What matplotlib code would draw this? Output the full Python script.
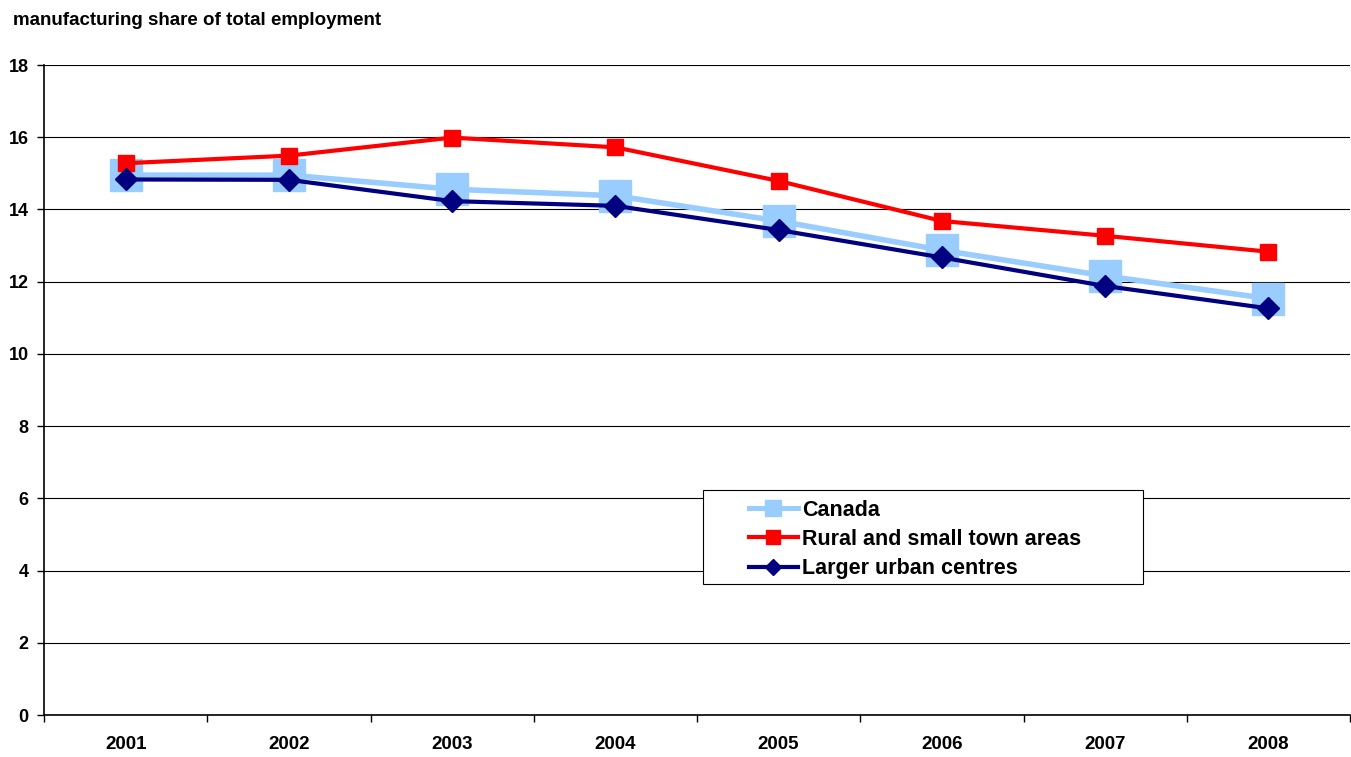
import numpy as np
import matplotlib.pyplot as plt
from matplotlib.lines import Line2D
from matplotlib.patches import Rectangle

plt.rcParams['font.family'] = ['Liberation Sans', 'DejaVu Sans']
plt.rcParams['font.weight'] = 'bold'

# Data
years = ['2001', '2002', '2003', '2004', '2005', '2006', '2007', '2008']
canada = [14.95, 14.95, 14.56, 14.38, 13.68, 12.87, 12.16, 11.53]
rural = [15.28, 15.49, 15.99, 15.72, 14.79, 13.68, 13.27, 12.83]
urban = [14.83, 14.82, 14.23, 14.10, 13.43, 12.67, 11.88, 11.26]

c_canada = '#99CCFF'
c_rural = '#FF0000'
c_urban = '#000080'

fig = plt.figure(figsize=(13.51, 7.57), dpi=100)
ax = fig.add_axes([44 / 1351, 42 / 757, 1306 / 1351, 650 / 757])

x = np.arange(len(years))
ax.plot(x, canada, color=c_canada, lw=4.0, marker='s', ms=23, mec=c_canada,
        solid_joinstyle='round', zorder=3)
ax.plot(x, rural, color=c_rural, lw=3.0, marker='s', ms=11.5, mec=c_rural, zorder=4)
ax.plot(x, urban, color=c_urban, lw=3.0, marker='D', ms=11.5, mec=c_urban, zorder=5)

ax.set_xlim(-0.5, len(years) - 0.5)
ax.set_ylim(0, 18)
ax.set_yticks(np.arange(0, 19, 2))
ax.set_xticks(x)
ax.set_xticklabels(years)
ax.set_xticks(np.arange(-0.5, len(years), 1), minor=True)
ax.tick_params(axis='x', which='major', length=0, pad=15, labelsize=13.5)
ax.tick_params(axis='x', which='minor', length=5, width=1, direction='out')
ax.tick_params(axis='y', length=5, width=1, direction='out', pad=6, labelsize=13)

ax.grid(axis='y', color='black', lw=0.8, zorder=0)
ax.set_axisbelow(True)
for s in ['top', 'right']:
    ax.spines[s].set_visible(False)
for s in ['left', 'bottom']:
    ax.spines[s].set_linewidth(1.2)

# legend
handles = [
    Line2D([], [], color=c_canada, lw=3.6, marker='s', ms=11, mec=c_canada),
    Line2D([], [], color=c_rural, lw=3.0, marker='s', ms=10, mec=c_rural),
    Line2D([], [], color=c_urban, lw=3.0, marker='D', ms=8, mec=c_urban),
]
labels = ['Canada', 'Rural and small town areas', 'Larger urban centres']
ax.add_patch(Rectangle((0.5046, 0.2015), 0.337, 0.1446, transform=ax.transAxes,
                       facecolor='white', edgecolor='black', lw=0.8, zorder=6))
leg = ax.legend(handles, labels, loc='center left', bbox_to_anchor=(0.5395, 0.2700),
                frameon=False, fontsize=15.5, handlelength=2.3, handletextpad=0.2,
                labelspacing=0.38, borderpad=0, borderaxespad=0)
leg.set_zorder(7)

fig.text(13 / 1351, 1 - 25 / 757, 'manufacturing share of total employment',
         fontsize=13.5, fontweight='bold', va='baseline', ha='left')

fig.savefig('out.png', dpi=100)
